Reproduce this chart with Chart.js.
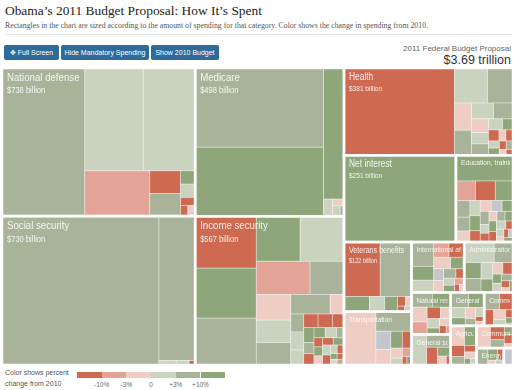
<!DOCTYPE html>
<html>
<head>
<meta charset="utf-8">
<script src="https://cdn.jsdelivr.net/npm/chart.js@4.4.0/dist/chart.umd.min.js"></script>
<style>
  body { margin: 0; width: 515px; height: 390px; background: #fff; position: relative; overflow: hidden;
         font-family: "Liberation Sans", Arial, sans-serif; }
  h1 { position: absolute; left: 5px; top: 3px; margin: 0; font: normal 13.4px "Liberation Serif", Georgia, serif; color: #222; white-space: nowrap; }
  .sub { position: absolute; left: 5px; top: 21px; font: 7.8px "Liberation Serif", Georgia, serif; color: #555; white-space: nowrap; }
  .rule { position: absolute; left: 5px; right: 3px; top: 34px; border-top: 1px solid #e6e6e6; }
  .btn { position: absolute; top: 45px; height: 15px; line-height: 15px; background: #2e6a9a; color: #fff;
         font-size: 7px; text-align: center; border-radius: 2px; white-space: nowrap; }
  .total-lbl { position: absolute; right: 4px; top: 44px; font-size: 8px; color: #666; }
  .total { position: absolute; right: 4px; top: 53px; font-size: 12.5px; color: #333; }
  #wrap { position: absolute; left: 2px; top: 68px; }
  .key { position: absolute; left: 5px; top: 367px; font-size: 7px; line-height: 11px; color: #555; }
  #legend { position: absolute; left: 77px; top: 372px; }
  .sw { position: absolute; top: 0; height: 6px; }
  .tk { position: absolute; top: 9px; font-size: 6.5px; color: #666; transform: translateX(-50%); white-space: nowrap; }
</style>
</head>
<body>
<h1>Obama’s 2011 Budget Proposal: How It’s Spent</h1>
<div class="sub">Rectangles in the chart are sized according to the amount of spending for that category. Color shows the change in spending from 2010.</div>
<div class="rule"></div>
<div class="btn" style="left:4px;width:55px">✥ Full Screen</div>
<div class="btn" style="left:61px;width:88px">Hide Mandatory Spending</div>
<div class="btn" style="left:151px;width:68px">Show 2010 Budget</div>
<div class="total-lbl">2011 Federal Budget Proposal</div>
<div class="total">$3.69 trillion</div>
<div id="wrap"><canvas id="tree" width="511" height="297"></canvas></div>
<div class="key">Color shows percent<br>change from 2010</div>
<div id="legend"></div>

<script>
// spending categories, billions of dollars shown in labels
const categories = [
  "National defense", "Social security", "Medicare", "Income security", "Health",
  "Net interest", "Education, training, employment and social services", "Veterans benefits",
  "Transportation", "International affairs", "Administration of justice",
  "Natural resources and environment", "General science, space and technology",
  "General government", "Commerce and housing credit", "Agriculture",
  "Community and regional development", "Energy", "Allowances"
];
const shownTotals = [738, 730, 498, 567, 381, 251, 128, 122, 92, 69, 64, 43, 31, 29, 25, 26, 21, 12, 4];

// sub-items per category: [billions, % change from 2010] (null = no 2010 figure)
const defenseItems = [[317, 6], [155, 1], [138, 1], [76, -6], [18, -15], [18, 6], [5, 15], [5, 1], [3, -15], [2, -15], [2, -1]];
const socialItems = [[604, 6], [135, 6], [2, 1], [1.5, 1], [0.7, -15]];
const medicareItems = [[263, 6], [229, 15], [69, 15], [4, 1], [2, -1], [2, 1], [1, 6]];
const incomeItems = [[82, -15], [79, 15], [74, 6], [51, 15], [51, 1], [46, -6], [29, 6], [23, -1], [20, 1], [20, 6], [20, 6],
  [7, -1], [6, 6], [6, 1], [5, 1], [5, -15], [5, -15], [4, -15], [4, 15], [3, 6], [3, -15], [3, 15], [3, 1],
  [2, 6], [2, -15], [2, 15], [2, -1], [2, -15], [2, 15], [2, 1], [2, -15], [1.5, 1], [1.5, -15], [1, 15], [1, -1], [1, -15], [1, 6]];
const healthItems = [[249, -15], [30, 1], [23, 6], [12, -1], [11, 6], [9, 1], [8, 6], [6, -1], [5, 1], [5, 6], [4, 1],
  [3, 15], [3, -15], [2, -1], [2, -15], [2, 1], [2, 15], [1.5, -15], [1.5, 6], [1, -1], [1, -15]];
const interestItems = [[251, 15]];
const educationItems = [[38, 15], [10, -6], [10, -15], [9, 15], [6, 6], [5, 6], [4, -1], [4, 1], [4, 15], [3, -15], [3, -1],
  [3, null], [3, 15], [3, 6], [2, 1], [2, -15], [2, -1], [2, 6], [2, 15], [2, 15], [2, -15], [2, 1], [1.5, -15], [1.5, 1],
  [1, -1], [1, -15], [1, null], [1, 15]];
const veteransItems = [[51, -15], [44, 6], [10, 15], [6, 1], [5, 15], [2, -15], [1.5, -1], [1, -15], [1, 1]];
const transportItems = [[44, -1], [18, 6], [7, null], [6, -1], [5, 15], [4, -15], [3, -1], [2, 1], [2, -6], [1, -15], [1, 15]];
const intlItems = [[14, 6], [8, 15], [7, 1], [6, -6], [6, -15], [5, -1], [4, 15], [3, null], [3, -1], [3, 6], [2, -15], [2, 1],
  [2, 15], [1.5, -6], [1, -15], [1, -1]];
const justiceItems = [[16, 1], [10, 6], [7, 15], [6, 6], [5, 1], [4, 15], [3, -1], [3, -15], [2, 15], [2, 1], [2, 6], [1.5, -15], [1, -1], [1, 15]];
const naturalItems = [[8, 6], [7, 15], [6, -1], [5, -6], [4, -15], [3, -1], [3, 1], [2, 15], [2, -1], [1.5, -15], [1, -6]];
const scienceItems = [[12, 1], [8, 6], [5, -15], [3, 15], [2, -1], [1, -15]];
const governmentItems = [[7, 6], [6, 15], [4, 1], [3, 15], [3, -1], [2, 6], [2, 1], [1, -15], [1, -1]];
const commerceItems = [[7, 6], [6, -15], [4, -15], [3, -1], [2, 1], [1.5, -15], [1, 15], [0.5, -6]];
const agricultureItems = [[7, -1], [6, 15], [4, -15], [3, 6], [2, -15], [2, -1], [1, 15], [1, 1]];
const communityItems = [[8, -1], [5, -15], [3, 6], [2, 15], [2, -15], [1, -1]];
const energyItems = [[5, 6], [3, 15], [2, -15], [1, -1], [1, 1]];
const allowanceItems = [[4, null]];

const catItems = [defenseItems, socialItems, medicareItems, incomeItems, healthItems, interestItems, educationItems,
  veteransItems, transportItems, intlItems, justiceItems, naturalItems, scienceItems, governmentItems, commerceItems,
  agricultureItems, communityItems, energyItems, allowanceItems];

// how the categories are grouped (split alternates columns / rows)
const layoutTree = [[0, 1], [2, 3], [4, [5, 6], [[7, 8], [[9, 10], [[11, 12], [[13, 14], [15, [16, [17, 18]]]]]]]]];

// color scale
const scaleBreaks = [-10, -3, 0, 3, 10];
const scaleColors = ["#cd6a51", "#e3a396", "#eecdc5", "#cad2c0", "#a8b39a", "#8ea67a"];
const tickLabels = ["-10%", "-3%", "0", "+3%", "+10%"];
const naColor = "#c3c6cc";

function colorFor(chg) {
  if (chg === null) return naColor;
  let i = 0;
  while (i < scaleBreaks.length && chg >= scaleBreaks[i]) i++;
  return scaleColors[i];
}

const sum = arr => arr.reduce((s, d) => s + d[0], 0);
function nodeValue(n) {
  return Array.isArray(n) ? n.reduce((s, c) => s + nodeValue(c), 0) : sum(catItems[n]);
}

function sliceLayout(node, x, y, w, h, depth, out) {
  if (!Array.isArray(node)) { out.push({ cat: node, x, y, w, h }); return; }
  const total = nodeValue(node);
  let off = 0;
  node.forEach(ch => {
    const f = nodeValue(ch) / total;
    if (depth % 2 === 0) sliceLayout(ch, x + off * w, y, w * f, h, depth + 1, out);
    else sliceLayout(ch, x, y + off * h, w, h * f, depth + 1, out);
    off += f;
  });
}

function worst(row, side, k) {
  const s = row.reduce((a, v) => a + v, 0) * k;
  let m = 0;
  row.forEach(v => {
    const r = v * k;
    m = Math.max(m, side * side * r / (s * s), s * s / (side * side * r));
  });
  return m;
}

function squarify(items, rect) {
  const out = [];
  let list = items.slice().sort((a, b) => b[0] - a[0]);
  let { x, y, w, h } = rect;
  const k = (w * h) / sum(list);
  while (list.length) {
    const side = Math.min(w, h);
    let row = [list[0][0]], i = 1;
    while (i < list.length && worst(row.concat(list[i][0]), side, k) <= worst(row, side, k)) {
      row.push(list[i][0]); i++;
    }
    const rowArea = row.reduce((a, v) => a + v, 0) * k;
    const part = list.slice(0, i);
    if (w >= h) {
      const t = rowArea / h; let yy = y;
      part.forEach(d => { const hh = d[0] * k / t; out.push({ x, y: yy, w: t, h: hh, chg: d[1] }); yy += hh; });
      x += t; w -= t;
    } else {
      const t = rowArea / w; let xx = x;
      part.forEach(d => { const ww = d[0] * k / t; out.push({ x: xx, y, w: ww, h: t, chg: d[1] }); xx += ww; });
      y += t; h -= t;
    }
    list = list.slice(i);
  }
  return out;
}

// narrow sans look: Liberation Sans squeezed horizontally
function narrowText(ctx, text, x, y, size) {
  ctx.save();
  ctx.font = size + 'px "Liberation Sans", Arial, sans-serif';
  ctx.translate(x, y);
  ctx.scale(0.84, 1);
  ctx.fillText(text, 0, 0);
  ctx.restore();
}

const canvas = document.getElementById("tree");
const AR = canvas.width / canvas.height;

const treemapPlugin = {
  id: "treemap",
  afterDatasetsDraw(chart) {
    const { ctx, scales: { x, y } } = chart;
    const cats = [];
    sliceLayout(layoutTree, 0, 0, 100 * AR, 100, 0, cats);
    const toPx = r => {
      const l = x.getPixelForValue(r.x), rr = x.getPixelForValue(r.x + r.w);
      const t = y.getPixelForValue(r.y), b = y.getPixelForValue(r.y + r.h);
      return { l, t, w: rr - l, h: b - t };
    };
    ctx.save();
    cats.forEach(c => {
      squarify(catItems[c.cat], c).forEach(cell => {
        const p = toPx(cell);
        ctx.fillStyle = colorFor(cell.chg);
        ctx.fillRect(p.l, p.t, p.w, p.h);
        ctx.strokeStyle = "rgba(255,255,255,0.45)";
        ctx.lineWidth = 0.8;
        ctx.strokeRect(p.l, p.t, p.w, p.h);
      });
    });
    cats.forEach(c => {
      const p = toPx(c);
      ctx.strokeStyle = "#fff";
      ctx.lineWidth = 2.5;
      ctx.strokeRect(p.l, p.t, p.w, p.h);
    });
    // labels
    cats.forEach(c => {
      const p = toPx(c);
      const side = Math.min(p.w, p.h);
      if (p.w < 18 || p.h < 14) return;
      const fs = side >= 140 ? 11.5 : side >= 80 ? 10 : side >= 60 ? 8.5 : 8;
      ctx.save();
      ctx.beginPath();
      ctx.rect(p.l, p.t, p.w - 3, p.h);
      ctx.clip();
      ctx.fillStyle = "rgba(255,255,255,0.88)";
      ctx.textBaseline = "top";
      narrowText(ctx, categories[c.cat], p.l + 5, p.t + 4, fs);
      if (side >= 60) {
        narrowText(ctx, "$" + shownTotals[c.cat] + " billion", p.l + 5, p.t + 7 + fs, +(fs * 0.78).toFixed(1));
      }
      ctx.restore();
    });
    ctx.restore();
  }
};

new Chart(canvas, {
  type: "scatter",
  data: { datasets: [{ data: [], pointRadius: 0 }] },
  options: {
    responsive: false,
    animation: false,
    layout: { padding: 0 },
    plugins: { legend: { display: false }, tooltip: { enabled: false } },
    scales: {
      x: { type: "linear", min: 0, max: 100 * AR, display: false },
      y: { type: "linear", min: 0, max: 100, reverse: true, display: false }
    }
  },
  plugins: [treemapPlugin]
});

// color key
const legend = document.getElementById("legend");
const swW = 24.7;
scaleColors.forEach((col, i) => {
  const d = document.createElement("div");
  d.className = "sw";
  d.style.left = (i * swW) + "px";
  d.style.width = swW + "px";
  d.style.background = col;
  legend.appendChild(d);
});
tickLabels.forEach((t, i) => {
  const d = document.createElement("div");
  d.className = "tk";
  d.style.left = ((i + 1) * swW) + "px";
  d.textContent = t;
  legend.appendChild(d);
});
</script>
</body>
</html>
